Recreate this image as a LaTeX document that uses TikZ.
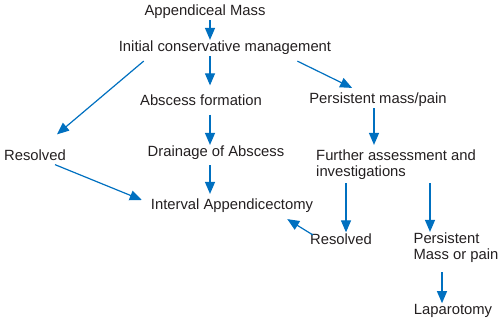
\documentclass[tikz,border=0pt]{standalone}
\usepackage{fontspec}
\setmainfont{Liberation Sans}
\usetikzlibrary{arrows.meta}
\definecolor{flowblue}{RGB}{0,112,192}
\definecolor{txt}{RGB}{35,31,32}
\begin{document}
\begin{tikzpicture}[
    x=1pt, y=-1pt,
    every node/.style={inner sep=1pt, text=txt, font=\fontsize{14.8}{16}\selectfont},
    arr/.style={flowblue, line width=1.2pt, -{Triangle[length=12pt,width=10pt]}}
  ]
  \useasboundingbox (0,0) rectangle (502,322);

  \node (mass) at (205,12) {Appendiceal Mass};
  \node (init) at (225,48) {Initial conservative management};
  \node (absc) at (201,100) {Abscess formation};
  \node (pers) at (378,100) {Persistent mass/pain};
  \node (resl) at (35,155) {Resolved};
  \node (drain) at (216,153) {Drainage of Abscess};
  \node[align=left] (further) at (396,165) {Further assessment and\\investigations};
  \node (interval) at (232,206) {Interval Appendicectomy};
  \node (resr) at (341,239) {Resolved};
  \node[align=left] (pmass) at (456,248) {Persistent\\Mass or pain};
  \node (lap) at (453,311) {Laparotomy};

  % Draw the arrows of the flow
  \draw[arr] ([xshift=5pt]mass.south) -- ([xshift=-15pt]init.north);
  \draw[arr] ([xshift=-15pt]init.south) -- ([xshift=9pt,yshift=8pt]absc.north);
  \draw[arr] ([xshift=-35pt,yshift=-5pt]init.south east) -- ([xshift=44pt,yshift=4pt]pers.north west);
  \draw[arr] ([xshift=26pt,yshift=-5pt]init.south west) -- ([xshift=22pt,yshift=14pt]resl.north);
  \draw[arr] ([xshift=9pt,yshift=-8pt]absc.south) -- ([xshift=-6pt]drain.north);
  \draw[arr] ([xshift=-4pt]pers.south) -- ([xshift=-22pt,yshift=4pt]further.north);
  \draw[arr] ([xshift=-6pt,yshift=-4pt]drain.south) -- ([xshift=-22pt,yshift=4pt]interval.north);
  \draw[arr] ([xshift=20pt,yshift=-3pt]resl.south) -- ([xshift=-8pt,yshift=6pt]interval.west);
  \draw[arr] ([xshift=4pt,yshift=4pt]resr.west) -- ([xshift=-27pt,yshift=-5pt]interval.south east);
  \draw[arr] ([xshift=-50pt,yshift=-2pt]further.south) -- ([xshift=5pt]resr.north);
  \draw[arr] ([xshift=34pt,yshift=-2pt]further.south) -- ([xshift=-26pt]pmass.north);
  \draw[arr] ([xshift=-14pt,yshift=-8pt]pmass.south) -- ([xshift=-11pt]lap.north);
\end{tikzpicture}
\end{document}
